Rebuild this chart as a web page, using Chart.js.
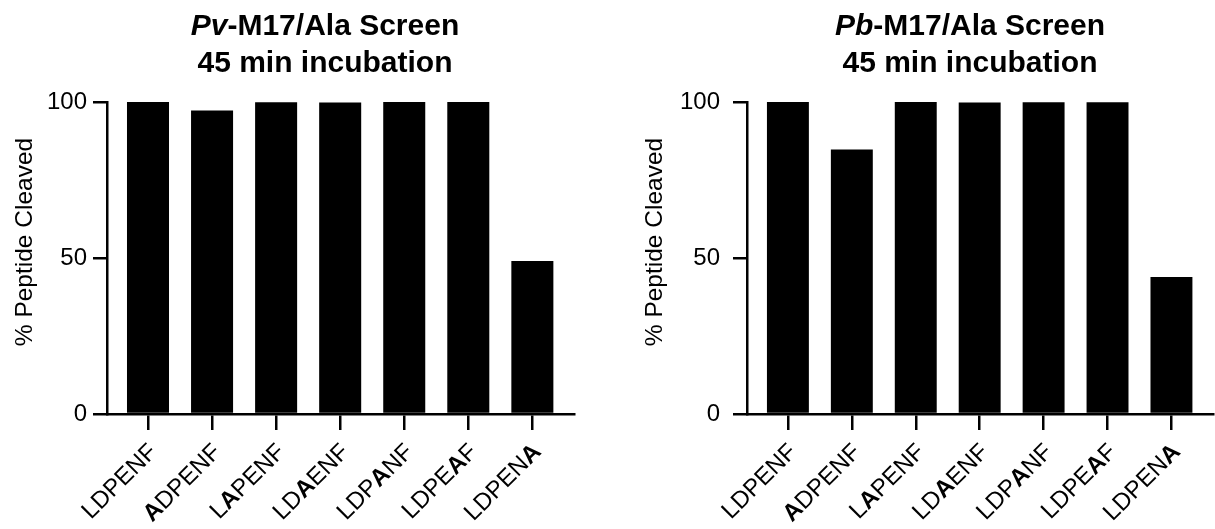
<!DOCTYPE html>
<html>
<head>
<meta charset="utf-8">
<script src="https://cdn.jsdelivr.net/npm/chart.js@4"></script>
<style>
  body { margin: 0; background: #fff; width: 1215px; height: 529px; position: relative; overflow: hidden; }
  .panel { position: absolute; top: 0; }
  .title {
    position: absolute; top: 6px; width: 420px; text-align: center;
    font: bold 30px/37px "Liberation Sans", Arial, sans-serif; color: #000;
  }
</style>
</head>
<body>
<canvas id="pvChart" class="panel" width="600" height="529" style="left:0"></canvas>
<canvas id="pbChart" class="panel" width="595" height="529" style="left:620px"></canvas>
<div class="title" style="left:115px"><i>Pv</i>-M17/Ala Screen<br>45 min incubation</div>
<div class="title" style="left:760px"><i>Pb</i>-M17/Ala Screen<br>45 min incubation</div>
<script>
// ===== data =====
const peptides = ['LDPENF', 'ADPENF', 'LAPENF', 'LDAENF', 'LDPANF', 'LDPEAF', 'LDPENA'];
const boldLetter = [-1, 0, 1, 2, 3, 4, 5];   // which letter is the alanine swap
const pvCleaved = [100, 97.3, 99.9, 99.8, 100, 100, 49.0];
const pbCleaved = [100, 84.8, 100, 99.8, 99.9, 99.9, 43.9];
const yTicks = [0, 50, 100];
const yTitle = '% Peptide Cleaved';

const FONT = '"Liberation Sans", Arial, sans-serif';

// ===== rotated labels with one bold letter + y title =====
const peptideLabels = {
  id: 'peptideLabels',
  afterDraw(chart, args, opts) {
    const ctx = chart.ctx;
    const xs = chart.scales.x;
    const base = chart.chartArea.bottom;
    ctx.save();
    ctx.fillStyle = '#000';
    ctx.textBaseline = 'alphabetic';
    ctx.textAlign = 'left';
    peptides.forEach((p, i) => {
      const fonts = [...p].map((ch, k) => (k === boldLetter[i] ? 'bold ' : '') + '24px ' + FONT);
      const widths = [...p].map((ch, k) => { ctx.font = fonts[k]; return ctx.measureText(ch).width; });
      const total = widths.reduce((a, b) => a + b, 0);
      ctx.save();
      ctx.translate(xs.getPixelForValue(i) + 4, base + 33);
      ctx.rotate(-Math.PI / 4);
      let cx = -total;
      [...p].forEach((ch, k) => {
        ctx.font = fonts[k];
        ctx.fillText(ch, cx, 8.5);
        cx += widths[k];
      });
      ctx.restore();
    });
    // y axis title
    ctx.translate(opts.titleX, 242);
    ctx.rotate(-Math.PI / 2);
    ctx.font = '24.5px ' + FONT;
    ctx.textAlign = 'center';
    ctx.fillText(yTitle, 0, 0);
    ctx.restore();
  }
};

function makeChart(id, values, axisLeft, padRight, tickPad, titleX) {
  return new Chart(document.getElementById(id), {
    type: 'bar',
    data: {
      datasets: [{
        data: values.map((v, i) => ({ x: i, y: v })),
        backgroundColor: '#000',
        borderWidth: 0,
        barPercentage: 0.656,
        categoryPercentage: 1
      }]
    },
    options: {
      responsive: false,
      animation: false,
      layout: { padding: { top: 102, left: 0, right: padRight, bottom: 0 } },
      plugins: { legend: { display: false }, tooltip: { enabled: false }, peptideLabels: { titleX } },
      scales: {
        x: {
          type: 'linear',
          offset: false,
          min: -0.64,
          max: 6.65,
          afterBuildTicks: s => { s.ticks = peptides.map((_, i) => ({ value: i })); },
          afterFit: s => { s.height = 529 - 414; },
          ticks: { callback: () => '' },
          grid: { offset: false, drawOnChartArea: false, drawTicks: true, tickLength: 16, lineWidth: 2.5, color: '#000' },
          border: { display: true, width: 2.5, color: '#000' }
        },
        y: {
          min: 0,
          max: 100,
          afterBuildTicks: s => { s.ticks = yTicks.map(v => ({ value: v })); },
          afterFit: s => { s.width = axisLeft; },
          ticks: { color: '#000', font: { family: FONT, size: 24 }, padding: tickPad },
          grid: { drawOnChartArea: false, drawTicks: true, tickLength: 14, lineWidth: 2.5, color: '#000' },
          border: { display: true, width: 2.5, color: '#000' }
        }
      }
    },
    plugins: [peptideLabels]
  });
}

makeChart('pvChart', pvCleaved, 107, 26, 6, 32);
makeChart('pbChart', pbCleaved, 127, 2, 13, 42);
</script>
</body>
</html>
